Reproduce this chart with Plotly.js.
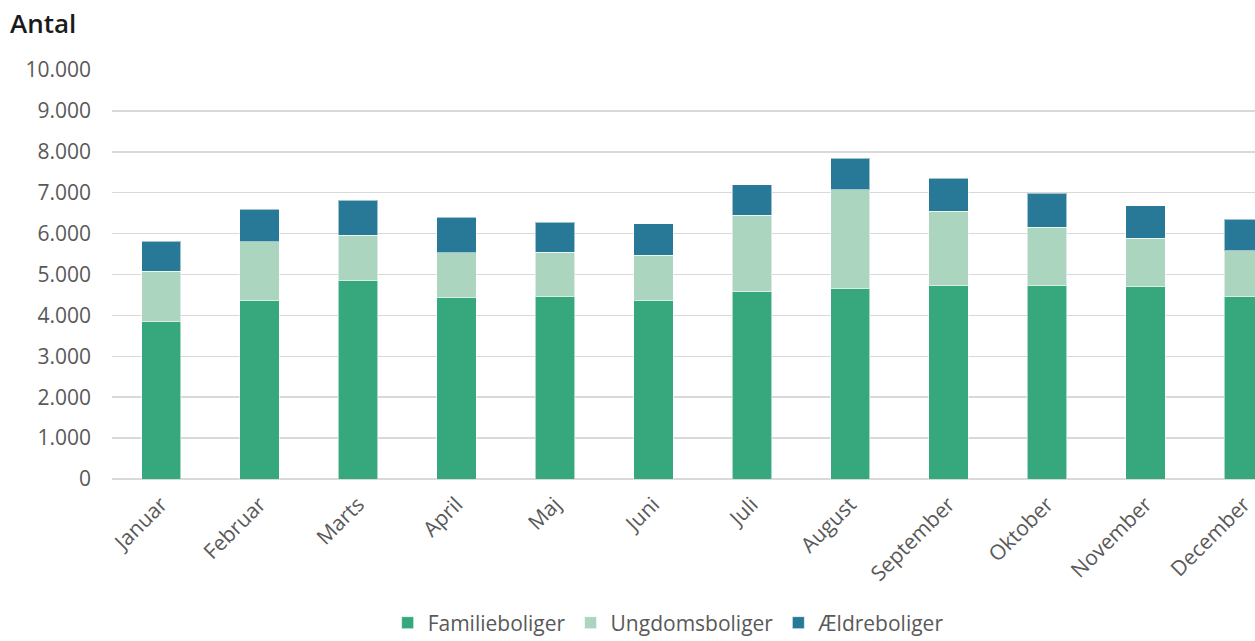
<!DOCTYPE html>
<html>
<head>
<meta charset="utf-8">
<script src="https://cdn.plot.ly/plotly-3.0.1.min.js"></script>
<style>
html,body{margin:0;padding:0;background:#fff;overflow:hidden;}
#chart{width:1255px;height:641px;}
</style>
</head>
<body>
<div id="chart"></div>
<script>
const months = ["Januar","Februar","Marts","April","Maj","Juni","Juli","August","September","Oktober","November","December"];
const familieboliger = [3840, 4370, 4860, 4450, 4470, 4370, 4590, 4670, 4720, 4740, 4700, 4460];
const ungdomsboliger = [1235, 1430, 1100, 1085, 1070, 1100, 1860, 2400, 1830, 1420, 1185, 1120];
const aeldreboliger = [735, 795, 850, 865, 735, 775, 740, 775, 800, 825, 790, 770];
const yTicks = [0,1000,2000,3000,4000,5000,6000,7000,8000,9000,10000];

const lineStyle = {color: 'rgba(255,255,255,0.55)', width: 1};
const traces = [
  {type:'bar', name:'Familieboliger', x: months, y: familieboliger, marker:{color:'#37A87D', line: lineStyle}},
  {type:'bar', name:'Ungdomsboliger', x: months, y: ungdomsboliger, marker:{color:'#ACD5C0', line: lineStyle}},
  {type:'bar', name:'Ældreboliger', x: months, y: aeldreboliger, marker:{color:'#287898', line: lineStyle}}
];

const layout = {
  width: 1255, height: 641,
  margin: {l:112, r:0, t:70, b:162, autoexpand:false},
  paper_bgcolor:'#fff', plot_bgcolor:'#fff',
  barmode:'stack', bargap:0.6,
  separators: ',.',
  font: {family:'"Open Sans", sans-serif', color:'#595959', size:21},
  title: {text:'Antal', font:{family:'"Open Sans", sans-serif', size:26, color:'#1a1a1a', weight:600},
          xref:'container', yref:'container', x:0.008, xanchor:'left', y:1-24/641, yanchor:'middle'},
  xaxis: {type:'category', range:[-0.5, 11.112], tickangle:-45, showgrid:false, showline:false, zeroline:false,
          ticks:'', ticklabelstandoff:8, tickfont:{size:21, color:'#595959'}, fixedrange:true, automargin:false},
  yaxis: {range:[0,10000], tickvals: yTicks, tickformat:',d', showgrid:true, gridcolor:'#d9d9d9', gridwidth:1.5,
          zeroline:true, zerolinecolor:'#d9d9d9', zerolinewidth:1.5, showline:false, ticks:'',
          ticklabelstandoff:20, tickfont:{size:21, color:'#595959'}, fixedrange:true, automargin:false},
  showlegend:true,
  legend: {orientation:'h', x:0.487, xanchor:'center', yref:'container', y:(641-623)/641, yanchor:'middle',
           font:{size:21, color:'#595959'}, traceorder:'normal', itemwidth:30}
};

Plotly.newPlot('chart', traces, layout, {displayModeBar:false, staticPlot:true});
</script>
</body>
</html>
